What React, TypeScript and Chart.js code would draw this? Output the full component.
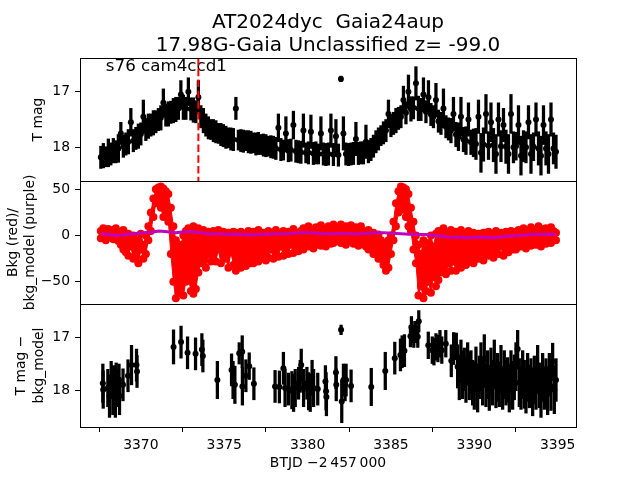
import React, { useEffect, useRef } from 'react';
import { Chart, registerables } from 'chart.js';

Chart.register(...registerables);

const FONT = "'DejaVu Sans', sans-serif";

const TITLE_LINES = ['AT2024dyc  Gaia24aup', '17.98G-Gaia Unclassified z= -99.0'];
const LABEL_TEXT = 's76 cam4ccd1';
const LABEL_AT = [3367.9, 16.62];
const MARK_TIME = 3373.45;
const X_TICKS = [3370, 3375, 3380, 3385, 3390, 3395];
const TOP_TICKS = [17, 18];
const MID_TICKS = [50, 0, -50];
const BOT_TICKS = [17, 18];
const X_LABEL = 'BTJD \u22122\u2009457\u2009000';
const TOP_LABEL = 'T mag';
const MID_LABEL = ['Bkg (red)/', 'bkg_model (purple)'];
const BOT_LABEL = ['T mag \u2212', 'bkg_model'];

// time samples for top / middle panels
const times = [
  3367.60, 3367.75, 3367.90, 3368.05, 3368.20, 3368.35, 3368.50, 3368.65, 3368.80, 3368.95,
  3369.10, 3369.25, 3369.40, 3369.55, 3369.70, 3369.85, 3370.00, 3370.15, 3370.30, 3370.45,
  3370.60, 3370.75, 3370.90, 3371.05, 3371.20, 3371.35, 3371.50, 3371.65, 3371.80, 3371.95,
  3372.10, 3372.25, 3372.40, 3372.55, 3372.70, 3372.85, 3373.00, 3373.15, 3373.30, 3373.45,
  3373.60, 3373.75, 3373.90, 3374.05, 3374.20, 3374.35, 3374.50, 3374.65, 3374.80, 3374.95,
  3375.10, 3375.25, 3375.40, 3375.55, 3375.70, 3375.85, 3376.00, 3376.15, 3376.30, 3376.45,
  3376.60, 3376.75, 3376.90, 3377.05, 3377.20, 3377.35, 3377.50, 3377.65, 3377.80, 3377.95,
  3378.10, 3378.25, 3378.40, 3378.55, 3378.70, 3378.85, 3379.00, 3379.15, 3379.30, 3379.45,
  3379.60, 3379.75, 3379.90, 3380.05, 3380.20, 3380.35, 3380.50, 3380.65, 3380.80, 3380.95,
  3381.10, 3381.25, 3381.40, 3381.55, 3381.70, 3381.85, 3382.00, 3382.15, 3382.30, 3382.45,
  3382.60, 3382.75, 3382.90, 3383.05, 3383.20, 3383.35, 3383.50, 3383.65, 3383.80, 3383.95,
  3384.10, 3384.25, 3384.40, 3384.55, 3384.70, 3384.85, 3385.00, 3385.15, 3385.30, 3385.45,
  3385.60, 3385.75, 3385.90, 3386.05, 3386.20, 3386.35, 3386.50, 3386.65, 3386.80, 3386.95,
  3387.10, 3387.25, 3387.40, 3387.55, 3387.70, 3387.85, 3388.00, 3388.15, 3388.30, 3388.45,
  3388.60, 3388.75, 3388.90, 3389.05, 3389.20, 3389.35, 3389.50, 3389.65, 3389.80, 3389.95,
  3390.10, 3390.25, 3390.40, 3390.55, 3390.70, 3390.85, 3391.00, 3391.15, 3391.30, 3391.45,
  3391.60, 3391.75, 3391.90, 3392.05, 3392.20, 3392.35, 3392.50, 3392.65, 3392.80, 3392.95,
  3393.10, 3393.25, 3393.40, 3393.55, 3393.70, 3393.85, 3394.00, 3394.15, 3394.30, 3394.45,
  3394.60, 3394.75, 3394.90,
];

// T mag (top panel)
const tMag = [
  18.18, 18.15, 18.17, 18.10, 18.12, 18.06, 18.08, 18.02, 17.75, 17.98,
  17.94, 17.90, 17.55, 17.88, 17.84, 17.80, 17.76, 17.45, 17.68, 17.62,
  17.60, 17.56, 17.54, 17.50, 17.47, 17.20, 17.42, 17.40, 17.37, 17.34,
  17.32, 17.30, 17.05, 17.28, 17.30, 17.00, 17.31, 17.33, 17.36, 17.10,
  17.45, 17.52, 17.60, 17.65, 17.68, 17.70, 17.72, 17.75, 17.77, 17.79,
  17.82, 17.83, 17.85, 17.86, 17.30, 17.87, 17.88, 17.89, 17.88, 17.90,
  17.91, 17.92, 17.94, 17.93, 17.95, 17.96, 17.97, 17.98, 17.99, 18.00,
  18.02, 17.65, 18.04, 18.05, 17.75, 18.06, 18.05, 17.60, 18.07, 18.08,
  18.09, 17.70, 18.10, 18.10, 17.72, 18.11, 18.10, 18.12, 17.75, 18.12,
  18.13, 18.12, 17.70, 18.13, 17.80, 18.14, 16.77, 17.75, 18.12, 18.13,
  18.12, 18.11, 17.85, 18.11, 18.10, 18.10, 17.90, 18.08, 18.04, 17.98,
  17.90, 17.85, 17.79, 17.74, 17.70, 17.40, 17.61, 17.57, 17.52, 17.48,
  17.45, 17.15, 17.38, 17.00, 17.31, 17.29, 16.85, 17.30, 17.32, 17.05,
  17.36, 17.10, 17.41, 17.45, 17.15, 17.53, 17.57, 17.30, 17.63, 17.67,
  17.70, 17.40, 17.77, 17.81, 17.45, 17.86, 17.88, 17.50, 17.91, 17.92,
  17.94, 17.45, 18.10, 17.95, 17.40, 17.97, 17.55, 17.96, 18.12, 17.50,
  17.98, 17.60, 17.99, 18.12, 17.40, 18.00, 17.98, 17.60, 18.15, 17.98,
  18.00, 17.55, 18.12, 17.99, 17.50, 18.02, 18.15, 17.60, 18.02, 18.12,
  17.50, 18.02, 18.08,
];

const tErr = [
  0.20, 0.22, 0.18, 0.25, 0.20, 0.22, 0.20, 0.25, 0.20, 0.20,
  0.20, 0.22, 0.25, 0.20, 0.20, 0.22, 0.20, 0.30, 0.20, 0.22,
  0.20, 0.22, 0.20, 0.20, 0.22, 0.25, 0.20, 0.22, 0.20, 0.22,
  0.22, 0.20, 0.25, 0.22, 0.20, 0.25, 0.20, 0.22, 0.20, 0.30,
  0.20, 0.22, 0.20, 0.20, 0.18, 0.20, 0.20, 0.18, 0.20, 0.20,
  0.20, 0.18, 0.20, 0.20, 0.20, 0.18, 0.20, 0.20, 0.18, 0.20,
  0.20, 0.18, 0.20, 0.20, 0.18, 0.20, 0.20, 0.18, 0.20, 0.20,
  0.20, 0.25, 0.20, 0.18, 0.30, 0.20, 0.20, 0.25, 0.20, 0.20,
  0.20, 0.30, 0.18, 0.20, 0.30, 0.20, 0.20, 0.18, 0.30, 0.20,
  0.20, 0.20, 0.30, 0.20, 0.30, 0.20, 0.05, 0.30, 0.20, 0.20,
  0.20, 0.20, 0.30, 0.20, 0.20, 0.20, 0.30, 0.20, 0.20, 0.20,
  0.20, 0.20, 0.18, 0.20, 0.20, 0.25, 0.20, 0.20, 0.22, 0.20,
  0.20, 0.25, 0.20, 0.30, 0.22, 0.20, 0.30, 0.22, 0.20, 0.30,
  0.20, 0.30, 0.20, 0.20, 0.30, 0.20, 0.20, 0.35, 0.20, 0.20,
  0.22, 0.30, 0.22, 0.25, 0.35, 0.22, 0.25, 0.30, 0.22, 0.25,
  0.28, 0.30, 0.35, 0.30, 0.35, 0.25, 0.35, 0.30, 0.35, 0.30,
  0.28, 0.30, 0.30, 0.35, 0.35, 0.28, 0.25, 0.35, 0.35, 0.28,
  0.28, 0.30, 0.35, 0.25, 0.30, 0.30, 0.35, 0.35, 0.30, 0.35,
  0.30, 0.28, 0.30,
];

// background flux (middle panel, red): upper and lower edge of the point cloud
const bkgHi = [
  5, 8, 3, 7, 2, 6, 8, 4,
  3, 6, -2, 2, -5, 0, -8,
  -5, 2, -10, 0,
  10, 25, 40, 50, 52,
  53, 51, 48, 45,
  30, 10, -5, -15,
  -10, 0, 5, 8, 0, 10,
  5, 8, 3, 6, 0, 4, 2,
  5, 2, 6, 0, 4, -2, 3, 1, 4,
  3, 0, 4, -2, 2, 5, 0,
  4, -2, 6, 0, 3, -4, 5, 1, -3, 6, 2, -1, 5, 0, 4, -2, 7, 3, -3, 5,
  8, 4, 10, 6, 2, 9, 5, 11, 7, 3, 10, 6, 12, 8, 5,
  12, 8, 10, 5, 11, 7, 9, 4, 10,
  5, 2, 6, 0, 3, -2, 1,
  -5, -8, -10, -5,
  0, 15, 35, 48,
  53, 52, 50, 45,
  30, 15, 0,
  -10, -20, -5, -15, -8, 0, -12, 2,
  5, 0, 8, 2, -3, 6, 0,
  4, 0, 6, 2, -2, 5, 1, 3, 0,
  2, -2, 3, 0, 4, -1, 2, 5, 0, 3, -2, 4, 1, 5, 2,
  4, 6, 2, 8, 5, 3, 9, 6, 4, 10, 7, 5, 8, 6, 9, 5, 3,
];

const bkgLo = [
  -3, 0, -5, -2, 2, -4, 0, -6,
  -10, -15, -18, -22, -12, -25, -20,
  -30, -15, -25, -20,
  -5, 5, 20, 35, 42,
  30, 20, 25, 15,
  -20, -50, -68, -62,
  -55, -65, -50, -45, -60, -63,
  -58, -40, -30, -25, -35, -20, -28,
  -20, -28, -15, -30, -22, -25, -35, -18, -32,
  -38, -30, -35, -28, -33, -25, -30,
  -30, -22, -28, -25, -18, -27, -24, -15, -25, -20, -23, -12, -22, -18, -20, -10, -19, -15, -17, -12,
  -15, -8, -12, -5, -14, -10, -3, -11, -7, -12, -4, -9, -8, -2, -6,
  -8, -3, -10, -6, -2, -9, -5, -11, -4,
  -8, -12, -15, -10, -20, -18, -25,
  -25, -32, -38, -35,
  -20, -5, 10, 25,
  35, 28, 20, 10,
  5, -15, -30,
  -65, -55, -68, -60, -50, -62, -45, -55,
  -48, -40, -35, -42, -30, -38, -28,
  -38, -30, -35, -25, -32, -28, -22, -30, -25,
  -25, -18, -27, -20, -22, -15, -24, -18, -20, -12, -22, -16, -18, -10, -15,
  -15, -10, -12, -6, -14, -8, -11, -5, -10, -7, -12, -4, -9, -6, -8, -3, -5,
];

// background model (middle panel, purple)
const modelT = [
  3367.6, 3368.1, 3368.6, 3369.1, 3369.6, 3370.1, 3370.6, 3371.1, 3371.6, 3372.1,
  3372.6, 3373.1, 3373.6, 3374.1, 3374.6, 3375.1, 3375.6, 3376.1, 3376.6, 3377.1,
  3377.6, 3378.1, 3378.6, 3379.1, 3379.6, 3380.1, 3380.6, 3381.1, 3381.6, 3382.1,
  3382.6, 3383.1, 3383.6, 3384.1, 3384.6, 3385.1, 3385.6, 3386.1, 3386.6, 3387.1,
  3387.6, 3388.1, 3388.6, 3389.1, 3389.6, 3390.1, 3390.6, 3391.1, 3391.6, 3392.1,
  3392.6, 3393.1, 3393.6, 3394.1, 3394.6, 3394.9,
];
const modelV = [
  2, 1, 0, 1, 2, 3, 3.5, 5, 4, 3,
  4, 4, 3, 2, 2, 1, 1.5, 1, 0.5, 1,
  1.5, 2, 2, 2.5, 3, 3, 2.5, 2, 2, 2.5,
  2, 2, 2.5, 3, 3, 2.5, 2, 1.5, 1, 1,
  0, -1, -2, -2, -2.5, -2, -2, -2.5, -1.5, -0.5,
  0, 0.5, 1, 1, 1.5, 1,
];

// T mag - bkg_model (bottom panel)
const dT = [
  3367.72, 3367.74, 3368.02, 3368.12, 3368.22, 3368.32, 3368.37, 3368.47, 3368.52, 3368.62,
  3368.69, 3368.72, 3368.93, 3369.23, 3369.44, 3369.74, 3369.77, 3371.96, 3372.41, 3372.80,
  3373.28, 3373.66, 3373.72, 3374.59, 3375.44, 3375.53, 3375.64, 3375.90, 3376.08, 3376.09,
  3376.30, 3376.50, 3376.78, 3378.05, 3378.31, 3378.55, 3378.65, 3378.85, 3379.06, 3379.16,
  3379.26, 3379.46, 3379.56, 3379.62, 3379.76, 3379.96, 3380.06, 3380.16, 3380.27, 3380.36,
  3380.61, 3381.07, 3381.11, 3381.13, 3381.70, 3381.72, 3382.01, 3382.05, 3382.15, 3382.25,
  3382.31, 3382.61, 3383.82, 3384.66, 3385.23, 3385.57, 3385.67, 3385.81, 3386.17, 3386.23,
  3386.27, 3386.37, 3386.47, 3386.61, 3386.67, 3387.24, 3387.48, 3387.58, 3387.70, 3387.82,
  3387.94, 3388.05, 3388.29, 3388.62, 3388.76, 3388.92,
  3389.0, 3389.1, 3389.2, 3389.3, 3389.4, 3389.5, 3389.6, 3389.7, 3389.8, 3389.9,
  3390.0, 3390.1, 3390.2, 3390.3, 3390.4, 3390.5, 3390.6, 3390.7, 3390.8, 3390.9,
  3391.0, 3391.1, 3391.2, 3391.3, 3391.4, 3391.5, 3391.6, 3391.7, 3391.8, 3391.9,
  3392.0, 3392.1, 3392.2, 3392.3, 3392.4, 3392.5, 3392.6, 3392.7, 3392.8, 3392.9,
  3393.0, 3393.1, 3393.2, 3393.3, 3393.4, 3393.5, 3393.6, 3393.7, 3393.8, 3393.9,
  3394.0, 3394.1, 3394.2, 3394.3, 3394.4, 3394.5, 3394.6, 3394.7, 3394.8, 3394.9,
];
const dMag = [
  17.86, 17.98, 17.95, 18.10, 17.80, 18.05, 17.88, 18.15, 17.78, 17.95,
  17.80, 18.10, 17.89, 17.72, 17.52, 17.52, 17.64, 17.18, 17.09, 17.29,
  17.31, 17.23, 17.35, 17.80, 17.61, 17.80, 17.89, 17.30, 17.27, 17.92,
  17.72, 17.54, 17.87, 17.92, 17.93, 17.58, 17.95, 17.97, 17.99, 18.04,
  17.95, 17.86, 17.73, 17.52, 17.95, 17.86, 18.01, 18.04, 17.73, 17.95,
  17.97, 17.83, 18.01, 18.12, 17.66, 17.89, 16.86, 18.20, 17.80, 17.89,
  17.80, 17.91, 17.93, 17.63, 17.39, 17.33, 17.27, 17.25, 16.98, 16.81,
  16.90, 16.99, 16.90, 16.99, 16.70, 17.15, 17.24, 17.27, 17.18, 17.21,
  17.12, 17.24, 17.12, 17.44, 17.21, 17.17,
  17.55, 17.75, 17.45, 17.70, 17.60, 17.80, 17.50, 17.72, 17.65, 17.85,
  17.90, 17.60, 17.95, 17.75, 17.55, 17.85, 17.40, 17.90, 17.70, 17.95,
  17.65, 17.85, 17.50, 17.92, 17.75, 17.88, 17.60, 17.95, 17.70, 17.85,
  17.80, 17.95, 17.65, 17.90, 17.75, 17.55, 17.22, 17.85, 17.95, 17.70,
  17.88, 18.00, 17.75, 17.92, 17.85, 18.02, 17.80, 17.95, 17.60, 17.90,
  18.05, 17.75, 17.95, 17.85, 18.00, 17.70, 17.92, 17.46, 17.98, 17.80,
];
const dErr = [
  0.36, 0.35, 0.35, 0.40, 0.35, 0.40, 0.35, 0.35, 0.30, 0.35,
  0.30, 0.35, 0.30, 0.30, 0.37, 0.30, 0.30, 0.32, 0.30, 0.30,
  0.30, 0.30, 0.30, 0.35, 0.30, 0.35, 0.35, 0.20, 0.30, 0.35,
  0.30, 0.25, 0.30, 0.30, 0.30, 0.30, 0.35, 0.30, 0.35, 0.35,
  0.35, 0.30, 0.30, 0.30, 0.35, 0.30, 0.35, 0.35, 0.30, 0.35,
  0.30, 0.30, 0.35, 0.35, 0.30, 0.30, 0.09, 0.40, 0.30, 0.30,
  0.30, 0.30, 0.35, 0.35, 0.30, 0.30, 0.30, 0.30, 0.20, 0.20,
  0.20, 0.20, 0.20, 0.20, 0.20, 0.25, 0.25, 0.25, 0.25, 0.25,
  0.25, 0.25, 0.25, 0.30, 0.30, 0.25,
  0.40, 0.42, 0.40, 0.45, 0.40, 0.42, 0.40, 0.45, 0.40, 0.42,
  0.45, 0.42, 0.45, 0.40, 0.45, 0.42, 0.45, 0.40, 0.45, 0.42,
  0.45, 0.42, 0.45, 0.40, 0.45, 0.42, 0.45, 0.40, 0.45, 0.42,
  0.42, 0.45, 0.40, 0.45, 0.42, 0.45, 0.35, 0.45, 0.40, 0.45,
  0.45, 0.42, 0.45, 0.40, 0.45, 0.45, 0.45, 0.40, 0.45, 0.42,
  0.45, 0.45, 0.40, 0.45, 0.45, 0.40, 0.45, 0.35, 0.45, 0.40,
];

const pts = (xs: number[], ys: number[]) => xs.map((x, i) => ({ x, y: ys[i] }));
const bars = (xs: number[], ys: number[], es: number[]) =>
  xs.map((x, i) => ({ x, y: [ys[i] - es[i], ys[i] + es[i]] }));
const fmt = (v: number) => (v < 0 ? '\u2212' + Math.abs(v) : String(v));

const tickFont = { family: FONT, size: 13.9 };
const gridCfg = {
  display: true,
  drawOnChartArea: false,
  drawTicks: true,
  tickLength: 5,
  color: '#000',
  lineWidth: 1,
};

function yScale(min: number, max: number, reverse: boolean, ticks: number[], title: any, pad: number) {
  return {
    type: 'linear',
    position: 'left',
    stack: 'panels',
    stackWeight: 1,
    min,
    max,
    reverse,
    grid: gridCfg,
    border: { display: false },
    ticks: { font: tickFont, color: '#000', padding: 5, autoSkip: false, callback: (v: any) => fmt(Number(v)) },
    afterBuildTicks: (s: any) => {
      s.ticks = ticks.map((v) => ({ value: v }));
    },
    afterFit: (s: any) => {
      s.width = 80;
    },
    title: {
      display: true,
      text: title,
      color: '#000',
      font: { family: FONT, size: 13.9, lineHeight: 1.25 },
      padding: { top: pad, bottom: 0 },
    },
  };
}

const decor = {
  id: 'decor',
  beforeDatasetsDraw(chart: any) {
    const ctx = chart.ctx;
    const xs = chart.scales.x;
    const yt = chart.scales.yTop;
    ctx.save();
    ctx.fillStyle = '#000';
    ctx.font = `16.7px ${FONT}`;
    ctx.textAlign = 'left';
    ctx.textBaseline = 'alphabetic';
    ctx.fillText(LABEL_TEXT, xs.getPixelForValue(LABEL_AT[0]), yt.getPixelForValue(LABEL_AT[1]));
    ctx.restore();
  },
  afterDatasetsDraw(chart: any) {
    const ctx = chart.ctx;
    const { left, right } = chart.chartArea;
    ctx.save();
    ctx.strokeStyle = '#000';
    ctx.lineWidth = 1;
    ['yTop', 'yMid', 'yBot'].forEach((id) => {
      const s = chart.scales[id];
      ctx.strokeRect(Math.round(left) + 0.5, Math.round(s.top) + 0.5, Math.round(right - left), Math.round(s.bottom - s.top));
    });
    ctx.restore();
  },
  afterDraw(chart: any) {
    const ctx = chart.ctx;
    const { left, right } = chart.chartArea;
    const cx = (left + right) / 2;
    ctx.save();
    ctx.fillStyle = '#000';
    ctx.font = `20px ${FONT}`;
    ctx.textAlign = 'center';
    ctx.textBaseline = 'alphabetic';
    ctx.fillText(TITLE_LINES[0], cx, 28);
    ctx.fillText(TITLE_LINES[1], cx, 51);
    ctx.restore();
  },
};

export default function App() {
  const ref = useRef<HTMLCanvasElement>(null);
  useEffect(() => {
    const canvas = ref.current;
    if (!canvas) return;
    const errBar = { type: 'bar', backgroundColor: '#000', borderWidth: 0, barThickness: 2.6, grouped: false };
    const red = '#ff0000';
    const chart = new Chart(canvas, {
      type: 'scatter',
      data: {
        datasets: [
          {
            type: 'line',
            data: [
              { x: MARK_TIME, y: 16.394 },
              { x: MARK_TIME, y: 18.606 },
            ],
            yAxisID: 'yTop',
            borderColor: red,
            borderWidth: 2,
            borderDash: [7.5, 3.3],
            pointRadius: 0,
            fill: false,
          },
          {
            type: 'line',
            data: pts(modelT, modelV),
            yAxisID: 'yMid',
            borderColor: '#bf00bf',
            borderWidth: 3,
            pointRadius: 0,
            tension: 0,
            fill: false,
          },
          { ...errBar, data: bars(times, tMag, tErr), yAxisID: 'yTop' },
          { type: 'scatter', data: pts(times, tMag), yAxisID: 'yTop', pointRadius: 3, backgroundColor: '#000', borderColor: '#000', borderWidth: 0 },
          {
            type: 'line',
            data: pts(times, bkgHi),
            yAxisID: 'yMid',
            showLine: true,
            borderColor: red,
            borderWidth: 1,
            backgroundColor: red,
            pointRadius: 4,
            pointBackgroundColor: red,
            pointBorderWidth: 0,
            tension: 0,
            fill: '+1',
          },
          {
            type: 'line',
            data: pts(times, bkgLo),
            yAxisID: 'yMid',
            showLine: true,
            borderColor: red,
            borderWidth: 1,
            backgroundColor: red,
            pointRadius: 4,
            pointBackgroundColor: red,
            pointBorderWidth: 0,
            tension: 0,
            fill: false,
          },
          { ...errBar, data: bars(dT, dMag, dErr), yAxisID: 'yBot' },
          { type: 'scatter', data: pts(dT, dMag), yAxisID: 'yBot', pointRadius: 3, backgroundColor: '#000', borderColor: '#000', borderWidth: 0 },
        ] as any,
      },
      options: {
        animation: false,
        responsive: false,
        maintainAspectRatio: false,
        events: [],
        layout: { padding: { top: 58, right: 64, bottom: 0, left: 0 } },
        plugins: { legend: { display: false }, tooltip: { enabled: false }, title: { display: false } },
        scales: {
          x: {
            type: 'linear',
            min: 3366.35,
            max: 3396.1,
            offset: false,
            grid: gridCfg,
            border: { display: false },
            ticks: { font: tickFont, color: '#000', padding: 5, maxRotation: 0, autoSkip: false, callback: (v: any) => String(v) },
            afterBuildTicks: (s: any) => {
              s.ticks = X_TICKS.map((v) => ({ value: v }));
            },
            afterFit: (s: any) => {
              s.height = 53;
            },
            title: {
              display: true,
              text: X_LABEL,
              color: '#000',
              font: { family: FONT, size: 13.9, lineHeight: 1.2 },
              padding: { top: 0, bottom: 8 },
            },
          },
          yBot: yScale(16.376, 18.68, true, BOT_TICKS, BOT_LABEL, 13),
          yMid: yScale(-74.1, 59.0, false, MID_TICKS, MID_LABEL, 4.3),
          yTop: yScale(16.394, 18.606, true, TOP_TICKS, TOP_LABEL, 29.6),
        } as any,
      },
      plugins: [decor],
    } as any);
    return () => chart.destroy();
  }, []);
  return (
    <div style={{ position: 'absolute', left: 0, top: 0, width: 640, height: 480, background: '#fff' }}>
      <canvas ref={ref} width={640} height={480} style={{ display: 'block', width: 640, height: 480 }} />
    </div>
  );
}
